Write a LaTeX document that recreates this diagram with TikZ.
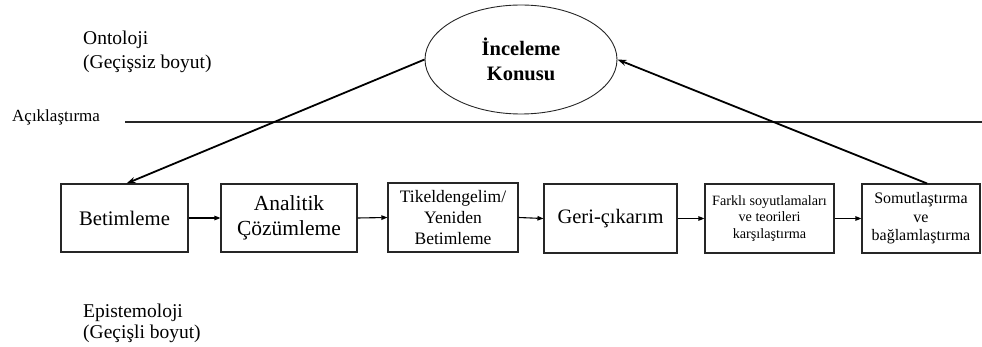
\documentclass[tikz,border=0pt]{standalone}
\usepackage{fontspec}
\setmainfont{Liberation Serif}
\usetikzlibrary{arrows.meta,shapes.geometric}
\tikzset{
  stagebox/.style={draw=black!85,line width=1.1pt,inner sep=0pt,align=center,minimum height=68pt},
  smallarrow/.style={line width=1.1pt,-{Triangle[length=6pt,width=4.5pt]}},
  bigarrow/.style={line width=1.8pt,-{Stealth[length=9pt,width=6pt]}},
  lbl/.style={inner sep=0pt,align=left,anchor=base west},
}
\begin{document}
\begin{tikzpicture}[x=1pt,y=-1pt]
\useasboundingbox (0,0) rectangle (982,347);
% ellipse
\node[ellipse,draw=black!85,line width=0.9pt,minimum width=192pt,minimum height=109pt,inner sep=0pt,align=center,
      font=\bfseries\fontsize{20.5}{25}\selectfont] (ell) at (521,59.5) {İnceleme\\Konusu};
% labels
\node[lbl,font=\fontsize{19.5}{24}\selectfont] (onto) at (83,69) {Ontoloji\\(Geçişsiz boyut)};
\node[lbl,font=\fontsize{17}{18}\selectfont] (acik) at (12,122) {Açıklaştırma};
\node[lbl,font=\fontsize{19.5}{21}\selectfont] (epis) at (83,338) {Epistemoloji\\(Geçişli boyut)};
% horizontal line
\coordinate (hl) at (125,122);
\coordinate (hr) at (982,122);
\draw[line width=2.7pt,black!85] (hl) -- (hr);
% boxes
\node[stagebox,minimum width=127pt,font=\fontsize{20.7}{24}\selectfont] (b1) at (124.5,218) {Betimleme};
\node[stagebox,minimum width=136pt,font=\fontsize{21.5}{25}\selectfont] (b2) at (289,218) {Analitik\\Çözümleme};
\node[stagebox,minimum width=130pt,minimum height=69pt,font=\fontsize{17.5}{21}\selectfont] (b3) at (453,217.5) {Tikeldengelim/\\Yeniden\\Betimleme};
\node[stagebox,minimum width=133pt,minimum height=69pt,font=\fontsize{20.5}{26}\selectfont] (b4) at (610.5,218.5) {Geri-çıkarım};
\node[stagebox,minimum width=129pt,minimum height=69pt,font=\fontsize{14.2}{16.5}\selectfont] (b5) at (769.5,218.5) {Farklı soyutlamaları\\ve teorileri\\karşılaştırma};
\node[stagebox,minimum width=118pt,minimum height=69pt,font=\fontsize{16}{18.5}\selectfont] (b6) at (921,218.5) {Somutlaştırma\\ve\\bağlamlaştırma};
% small arrows
\draw[smallarrow] (b1.east) -- (b2.west);
\draw[smallarrow] (b2.east) -- (b3.west);
\draw[smallarrow] (b3.east) -- (b4.west);
\draw[smallarrow] (b4.east) -- (b5.west);
\draw[smallarrow] (b5.east) -- (b6.west);
% long arrows
\draw[bigarrow] (ell.west) -- ([xshift=2pt]b1.north);
\draw[bigarrow] ([xshift=6pt]b6.north) -- (ell.east);
\end{tikzpicture}
\end{document}
